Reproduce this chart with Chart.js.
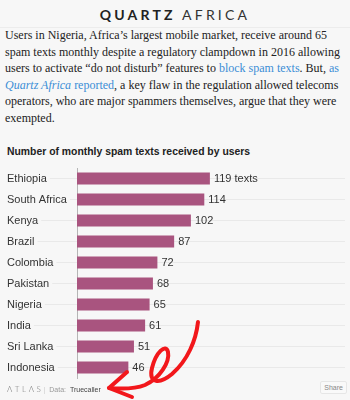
<!DOCTYPE html>
<html>
<head>
<meta charset="utf-8">
<script src="https://cdn.jsdelivr.net/npm/chart.js@4"></script>
<style>
  html, body { margin: 0; padding: 0; }
  body { width: 350px; height: 400px; background: #f7f7f7; position: relative; overflow: hidden; }
  .brand { position: absolute; left: 0; top: 6px; width: 350px; text-align: center; font-family: Lato, sans-serif; font-size: 14px; letter-spacing: 3.2px; color: #222; line-height: 18px; }
  .brand b { font-weight: 700; }
  .brand span { font-weight: 400; color: #333; }
  .rule { position: absolute; left: 0; top: 27px; width: 350px; height: 1px; background: #ececec; }
  .lede { position: absolute; left: 5px; top: 27px; font-family: "Liberation Serif", serif; font-size: 12px; line-height: 16.6px; color: #222; white-space: nowrap; }
  .lede a { color: #3b8ed6; text-decoration: none; }
  .title { position: absolute; left: 7px; top: 146px; font-family: "Liberation Sans", Arial, sans-serif; font-size: 10.4px; font-weight: bold; color: #222; white-space: nowrap; }
  #wrap { position: absolute; left: 0; top: 160px; width: 350px; height: 225px; }
  .foot { position: absolute; left: 7px; top: 384px; font-family: "Liberation Sans", Arial, sans-serif; font-size: 7px; color: #999; white-space: nowrap; line-height: 10px; }
  .foot .logo { font-size: 8px; letter-spacing: 2.6px; color: #777; font-weight: 300; font-family: Lato, sans-serif; }
  .foot .sep { color: #ccc; margin: 0 4px 0 0; }
  .foot .src { color: #444; margin-left: 2px; }
  .share { position: absolute; right: 3px; top: 381px; border: 1px solid #e6e6e6; border-radius: 2px; padding: 2px 3px; font-family: "Liberation Sans", Arial, sans-serif; font-size: 7px; color: #888; background: #f9f9f9; }
  svg.mark { position: absolute; left: 0; top: 0; pointer-events: none; }
</style>
</head>
<body>
<div class="brand"><b>QUARTZ</b> <span>AFRICA</span></div>
<div class="rule"></div>
<div class="lede">Users in Nigeria, Africa’s largest mobile market, receive around 65<br>spam texts monthly despite a regulatory clampdown in 2016 allowing<br>users to activate “do not disturb” features to <a>block spam texts</a>. But, <a>as</a><br><a><i>Quartz Africa</i> reported</a>, a key flaw in the regulation allowed telecoms<br>operators, who are major spammers themselves, argue that they were<br>exempted.</div>
<div class="title">Number of monthly spam texts received by users</div>
<div id="wrap"><canvas id="grafico"></canvas></div>
<div class="foot"><span class="logo">ΛTLΛS</span><span class="sep">|</span>Data: <span class="src">Truecaller</span></div>
<div class="share">Share</div>
<svg class="mark" width="350" height="400">
  <path d="M198,322 C196,340 188,360 172,374 C160,384 148,384 152,368 C156,352 166,343 168,352 C170,362 160,378 145,385 C135,389 120,389 109,388" fill="none" stroke="#f2171b" stroke-width="4" stroke-linecap="round" stroke-linejoin="round"/>
  <path d="M127,372 L109,388 L132,397" fill="none" stroke="#f2171b" stroke-width="4" stroke-linecap="round" stroke-linejoin="round"/>
</svg>

<script>
// Dados
const paises = ['Ethiopia', 'South Africa', 'Kenya', 'Brazil', 'Colombia', 'Pakistan', 'Nigeria', 'India', 'Sri Lanka', 'Indonesia'];
const spamPorMes = [119, 114, 102, 87, 72, 68, 65, 61, 51, 46];
const sufixoPrimeiro = ' texts';

const corBarra = '#a9547f';
const corTexto = '#333';
const fonte = '"Liberation Sans", Arial, sans-serif';

// rótulos de valor no fim de cada barra
const rotulosValor = {
  id: 'rotulosValor',
  afterDatasetsDraw(chart) {
    const ctx = chart.ctx;
    const meta = chart.getDatasetMeta(0);
    ctx.save();
    ctx.font = '11px ' + fonte;
    ctx.fillStyle = corTexto;
    ctx.textAlign = 'left';
    ctx.textBaseline = 'middle';
    meta.data.forEach((bar, i) => {
      const txt = spamPorMes[i] + (i === 0 ? sufixoPrimeiro : '');
      ctx.fillText(txt, bar.x + 4, bar.y + 0.5);
    });
    ctx.restore();
  }
};

const ctx = document.getElementById('grafico').getContext('2d');
new Chart(ctx, {
  type: 'bar',
  data: {
    labels: paises,
    datasets: [{
      data: spamPorMes,
      backgroundColor: corBarra,
      borderWidth: 0,
      barPercentage: 0.57,
      categoryPercentage: 1
    }]
  },
  options: {
    indexAxis: 'y',
    responsive: true,
    maintainAspectRatio: false,
    animation: false,
    layout: { padding: { left: 7, right: 5, top: 8, bottom: 7 } },
    plugins: {
      legend: { display: false },
      title: { display: false },
      tooltip: { enabled: false }
    },
    scales: {
      x: {
        display: false,
        min: 0,
        max: 240
      },
      y: {
        afterFit(scale) { scale.width = 70; },
        grid: {
          offset: false,
          color: '#e9e9e9',
          lineWidth: 1,
          drawTicks: true,
          tickLength: 70
        },
        border: { display: true, color: '#b5b5b5', width: 1 },
        ticks: {
          crossAlign: 'far',
          padding: 0,
          color: corTexto,
          font: { family: fonte, size: 11 },
          showLabelBackdrop: true,
          backdropColor: '#f7f7f7',
          backdropPadding: { left: 0, right: 3, top: 0, bottom: 0 }
        }
      }
    }
  },
  plugins: [rotulosValor]
});
</script>
</body>
</html>
